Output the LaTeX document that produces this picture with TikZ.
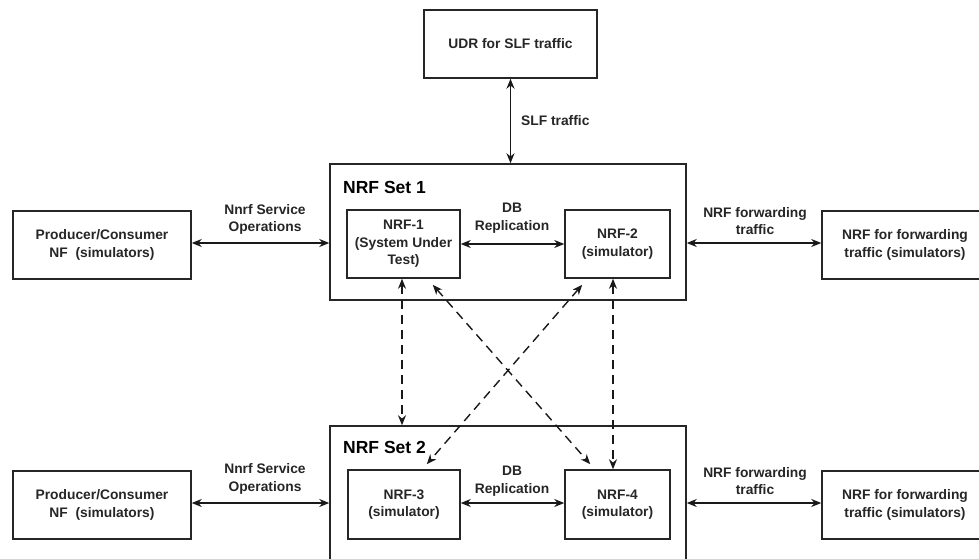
\documentclass[tikz,border=0pt]{standalone}
\usepackage{fontspec}
\setmainfont{Liberation Sans}
\usetikzlibrary{arrows.meta}
\begin{document}
\begin{tikzpicture}[x=1pt,y=-1pt,
  box/.style={draw=black!85, line width=1.5pt, align=center, inner sep=0pt},
  lbl/.style={align=center, inner sep=0pt},
  txt/.style={font=\fontsize{13.8}{17.5}\selectfont\bfseries\color{black!85}},
  settitle/.style={font=\fontsize{17.5}{20}\selectfont\bfseries, anchor=west, inner sep=0pt},
  link/.style={line width=1.4pt, draw=black!90, {Stealth[length=10pt,width=8pt]}-{Stealth[length=10pt,width=8pt]}},
  dlink/.style={link, dash pattern=on 9pt off 6pt}
]
\useasboundingbox[fill=white] (0,0) rectangle (979,559);
\begin{scope}[every node/.append style={txt}]
% top
\node[box, minimum width=173pt, minimum height=68pt] (udr) at (510.5,44) {UDR for SLF traffic};
% set 1
\node[box, minimum width=356pt, minimum height=136pt] (set1) at (508,232) {};
\node[settitle] (t1) at (343,187) {NRF Set 1};
\node[box, minimum width=113pt, minimum height=68pt] (nrf1) at (403.5,244) {NRF-1\\(System Under\\Test)};
\node[box, minimum width=105pt, minimum height=68pt] (nrf2) at (617.5,244) {NRF-2\\(simulator)};
\node[box, minimum width=178pt, minimum height=68pt] (prod1) at (102,245) {Producer/Consumer\\NF\ \ (simulators)};
\node[box, minimum width=166pt, minimum height=68pt] (fwd1) at (905,245) {NRF for forwarding\\traffic (simulators)};
% set 2
\node[box, minimum width=356pt, minimum height=174pt] (set2) at (508,513) {};
\node[settitle] (t2) at (343,447) {NRF Set 2};
\node[box, minimum width=112pt, minimum height=69pt] (nrf3) at (404,504.5) {NRF-3\\(simulator)};
\node[box, minimum width=105pt, minimum height=69pt] (nrf4) at (617.5,504.5) {NRF-4\\(simulator)};
\node[box, minimum width=178pt, minimum height=68pt] (prod2) at (102,505) {Producer/Consumer\\NF\ \ (simulators)};
\node[box, minimum width=166pt, minimum height=68pt] (fwd2) at (905,505) {NRF for forwarding\\traffic (simulators)};
% labels
\node[lbl, anchor=west] (slf) at (521,121) {SLF traffic};
\node[lbl] (nnrf1) at (265,219.5) {Nnrf Service\\Operations};
\node[lbl] (db1) at (512,218) {DB\\Replication};
\node[lbl] (fl1) at (755,221) {NRF forwarding\\traffic};
\node[lbl] (nnrf2) at (265,479) {Nnrf Service\\Operations};
\node[lbl] (db2) at (512,481) {DB\\Replication};
\node[lbl] (fl2) at (755,481) {NRF forwarding\\traffic};
\end{scope}
% solid connectors
\draw[link] (udr.south) -- (udr.south |- set1.north);
\draw[link] ([yshift=2pt]prod1.east) -- ([yshift=2pt]prod1.east -| set1.west);
\draw[link] (nrf1.east) -- (nrf2.west);
\draw[link] ([yshift=2pt]set1.east |- fwd1.west) -- ([yshift=2pt]fwd1.west);
\draw[link] ([yshift=2pt]prod2.east) -- ([yshift=2pt]prod2.east -| set2.west);
\draw[link] ([yshift=1.5pt]nrf3.east) -- ([yshift=1.5pt]nrf4.west);
\draw[link] ([yshift=2pt]set2.east |- fwd2.west) -- ([yshift=2pt]fwd2.west);
% dashed connectors
\draw[dlink] ([xshift=-1.5pt]nrf1.south) -- ([xshift=-1.5pt]nrf1.south |- set2.north);
\draw[dlink] ([xshift=-4.5pt]nrf2.south) -- ([xshift=-4.5pt]nrf2.south |- nrf4.north);
\draw[dlink] ([xshift=-28pt,yshift=-6pt]nrf1.south east) -- ([xshift=26pt,yshift=5pt]nrf4.north west);
\draw[dlink] ([xshift=18pt,yshift=-6pt]nrf2.south west) -- ([xshift=-34pt,yshift=5pt]nrf3.north east);
\end{tikzpicture}
\end{document}
